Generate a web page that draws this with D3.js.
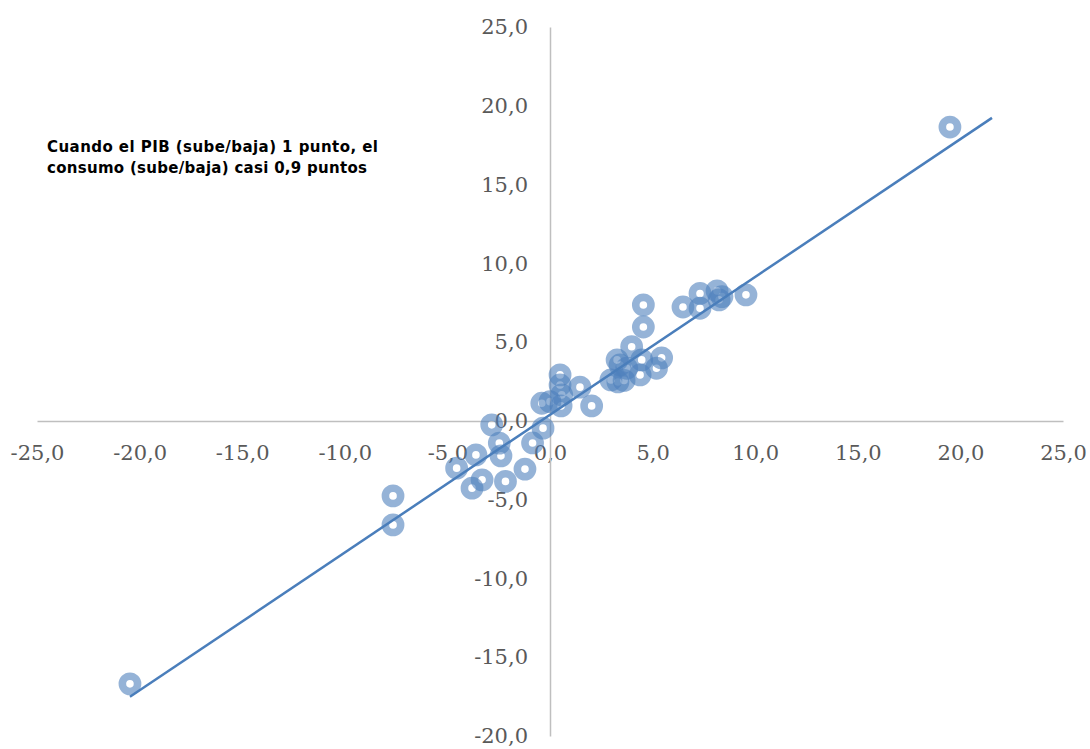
<!DOCTYPE html>
<html>
<head>
<meta charset="utf-8">
<script src="https://cdn.jsdelivr.net/npm/d3@7"></script>
<style>
  html, body { margin: 0; padding: 0; background: #fff; }
  svg { display: block; }
</style>
</head>
<body>
<svg id="chart" width="1090" height="749"></svg>
<script>
// PIB growth (x) vs consumption growth (y)
const pibValues = [-20.47, 19.49, -7.65, -7.65, -2.84, -2.47, -3.61, -2.39, -4.55, -3.31,
  -3.80, -2.17, -1.22, -0.85, -0.34, -0.40, 0.00, 0.49, 0.49, 0.57,
  0.54, 1.46, 2.03, 4.55, 4.55, 3.98, 3.27, 4.47, 5.44, 5.19,
  4.39, 3.61, 2.97, 3.74, 6.48, 7.31, 7.31, 8.14, 8.38, 8.24,
  9.55, 3.41, 3.31];
const consumoValues = [-16.69, 18.65, -4.76, -6.60, -0.25, -1.41, -2.16, -2.22, -3.00, -3.74,
  -4.27, -3.84, -3.06, -1.40, -0.46, 1.12, 1.22, 2.92, 2.28, 1.65,
  0.95, 2.14, 0.95, 7.36, 5.96, 4.71, 3.87, 3.87, 4.00, 3.34,
  2.92, 2.57, 2.60, 3.34, 7.23, 8.09, 7.15, 8.25, 7.89, 7.68,
  8.00, 3.55, 2.47];
// linear trendline endpoints
const trendX = [-20.47, 21.54];
const trendY = [-17.51, 19.23];
const xTicks = [-25, -20, -15, -10, -5, 0, 5, 10, 15, 20, 25];
const yTicks = [-20, -15, -10, -5, 0, 5, 10, 15, 20, 25];
const noteLines = ["Cuando el PIB (sube/baja) 1 punto, el", "consumo (sube/baja) casi 0,9 puntos"];

const svg = d3.select("#chart");
const x = d3.scaleLinear().domain([-25, 25]).range([37, 1063]);
const y = d3.scaleLinear().domain([-20, 25]).range([736, 27]);
const fmt = v => v.toFixed(1).replace(".", ",");

const xAxis = svg.append("g")
  .attr("transform", `translate(0,${y(0)})`)
  .call(d3.axisBottom(x).tickValues(xTicks).tickFormat(fmt).tickSize(0).tickPadding(24));
const yAxis = svg.append("g")
  .attr("transform", `translate(${x(0)},0)`)
  .call(d3.axisLeft(y).tickValues(yTicks).tickFormat(fmt).tickSize(0).tickPadding(22));

[xAxis, yAxis].forEach(g => {
  g.select(".domain").attr("stroke", "#bfbfbf").attr("stroke-width", 1.5);
  g.selectAll("text")
    .attr("fill", "#595959")
    .style("font-family", "'DejaVu Serif', serif")
    .style("font-size", "21px");
});

const pts = pibValues.map((v, i) => ({ px: v, cy: consumoValues[i] }));
svg.append("g").selectAll("circle").data(pts).join("circle")
  .attr("cx", d => x(d.px))
  .attr("cy", d => y(d.cy))
  .attr("r", 7.6)
  .attr("fill", "none")
  .attr("stroke", "#4f81bd")
  .attr("stroke-opacity", 0.6)
  .attr("stroke-width", 7.6);

const line = d3.line().x(d => x(d[0])).y(d => y(d[1]));
svg.append("path")
  .datum(trendX.map((v, i) => [v, trendY[i]]))
  .attr("d", line)
  .attr("fill", "none")
  .attr("stroke", "#4a7ebb")
  .attr("stroke-width", 2.5);

const noteWidths = [331, 320];
svg.append("g").selectAll("text").data(noteLines).join("text")
  .attr("x", 47)
  .attr("y", (d, i) => 152 + i * 21)
  .attr("fill", "#000")
  .attr("textLength", (d, i) => noteWidths[i])
  .attr("lengthAdjust", "spacing")
  .style("font-family", "'DejaVu Sans', sans-serif")
  .style("font-weight", "bold")
  .style("font-size", "15px")
  .text(d => d);
</script>
</body>
</html>
